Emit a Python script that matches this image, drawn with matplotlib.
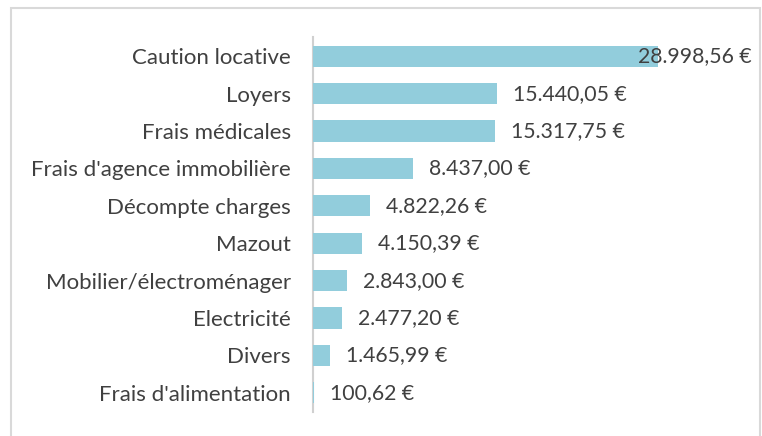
import matplotlib
matplotlib.use("Agg")
import matplotlib.pyplot as plt
from matplotlib.patches import Rectangle
from matplotlib.transforms import blended_transform_factory

categories = ["Caution locative", "Loyers", "Frais médicales", "Frais d'agence immobilière",
              "Décompte charges", "Mazout", "Mobilier/électroménager", "Electricité",
              "Divers", "Frais d'alimentation"]
values = [28998.56, 15440.05, 15317.75, 8437.00, 4822.26, 4150.39, 2843.00, 2477.20, 1465.99, 100.62]

def fmt(v):
    s = f"{v:,.2f}"
    s = s.replace(",", "X").replace(".", ",").replace("X", ".")
    return s + " €"

W, H = 762, 436
fig = plt.figure(figsize=(W / 100, H / 100), dpi=100)
fig.patch.set_facecolor("white")

# outer border
fig.patches.append(Rectangle((10.5 / W, -0.05), (760 - 10.5) / W, (H - 8) / H + 0.05,
                             transform=fig.transFigure, fill=False,
                             edgecolor="#D9D9D9", linewidth=1.5, zorder=0))

left_px, right_px = 313, 670
top_px, bot_px = 37.5, 411.5
ax = fig.add_axes([left_px / W, 1 - bot_px / H, (right_px - left_px) / W, (bot_px - top_px) / H])
xmax = 30000
ax.set_xlim(0, xmax)
n = len(categories)
ax.set_ylim(n - 0.5, -0.5)
ypos = list(range(n))
ax.barh(ypos, values, height=0.57, color="#92CDDC", edgecolor="none", zorder=3)

FS_CAT = 16.0
FS_VAL = 15.3
ax.set_yticks(ypos)
ax.set_yticklabels(categories, fontsize=FS_CAT, color="#404040", family="Lato")
ax.tick_params(axis="y", length=0, pad=16)
ax.set_xticks([])
for s in ["top", "right", "bottom"]:
    ax.spines[s].set_visible(False)
ax.spines["left"].set_color("#D0D0D0")
ax.spines["left"].set_linewidth(1.5)

px_per_unit = (right_px - left_px) / xmax
limit_px = 752
trans_fig_data = blended_transform_factory(fig.transFigure, ax.transData)
for y, v in zip(ypos, values):
    end_px = left_px + v * px_per_unit
    t = fmt(v)
    if end_px + 16 + 115 > limit_px:
        ax.text(limit_px / W, y, t, transform=trans_fig_data,
                ha="right", va="center", fontsize=FS_VAL, color="#404040", family="Lato",
                clip_on=False, zorder=4)
    else:
        ax.annotate(t, xy=(v, y), xytext=(16, 0), textcoords="offset pixels",
                    ha="left", va="center", fontsize=FS_VAL, color="#404040", family="Lato",
                    annotation_clip=False, zorder=4)

fig.savefig("out.png", dpi=100)
